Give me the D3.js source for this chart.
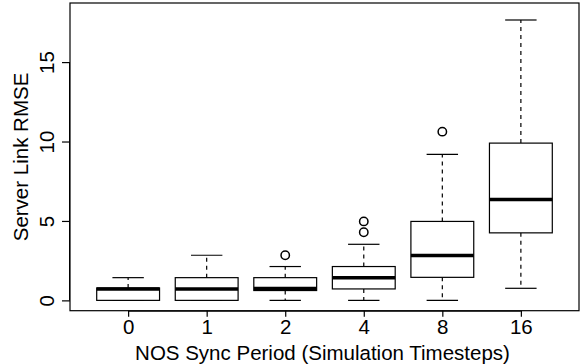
<!DOCTYPE html>
<html>
<head>
<meta charset="utf-8">
<script src="https://cdn.jsdelivr.net/npm/d3@7"></script>
<style>
  body { margin: 0; background: #fff; }
  text { font-family: "Liberation Sans", Arial, sans-serif; fill: #000; }
</style>
</head>
<body>
<div id="chart"></div>
<script>
// box stats
var categories = ["0", "1", "2", "4", "8", "16"];
var lowWhisker = [0, 0, 0, 0, 0, 0.76];
var q1 = [0, 0, 0.62, 0.72, 1.45, 4.25];
var median = [0.72, 0.72, 0.75, 1.43, 2.82, 6.35];
var q3 = [0.78, 1.43, 1.43, 2.13, 4.97, 9.9];
var highWhisker = [1.43, 2.84, 2.13, 3.53, 9.19, 17.65];
var outliers = [[], [], [2.84], [4.29, 4.97], [10.62], []];
var yTicks = [0, 5, 10, 15];

var width = 584, height = 364;
var mLeft = 70, mRight = 579, mTop = 3, mBottom = 310.7;
var fontSize = "20.5px";

var svg = d3.select("#chart").append("svg")
    .attr("width", width)
    .attr("height", height);

// R style: x positions 1..n, limits padded by 4%
var x = d3.scaleLinear()
    .domain([0.26, 6.74])
    .range([mLeft, mRight]);

var y = d3.scaleLinear()
    .domain([-0.65, 18.72])
    .range([mBottom, mTop]);

var step = x(2) - x(1);
var boxW = step * 0.8;
var capW = boxW * 0.5;

var data = categories.map(function(c, i) {
  return {
    name: c, i: i + 1,
    lo: lowWhisker[i], q1: q1[i], med: median[i], q3: q3[i], hi: highWhisker[i],
    out: outliers[i]
  };
});

var box = svg.selectAll(".box")
    .data(data)
  .enter().append("g")
    .attr("class", "box");

// whiskers (dashed)
box.append("line")
    .attr("x1", function(d) { return x(d.i); })
    .attr("x2", function(d) { return x(d.i); })
    .attr("y1", function(d) { return y(d.q3); })
    .attr("y2", function(d) { return y(d.hi); })
    .attr("stroke", "#000").attr("stroke-width", 1.2)
    .attr("stroke-dasharray", "4,4");

box.append("line")
    .attr("x1", function(d) { return x(d.i); })
    .attr("x2", function(d) { return x(d.i); })
    .attr("y1", function(d) { return y(d.q1); })
    .attr("y2", function(d) { return y(d.lo); })
    .attr("stroke", "#000").attr("stroke-width", 1.2)
    .attr("stroke-dasharray", "4,4");

// caps
box.selectAll(".cap")
    .data(function(d) { return [{i: d.i, v: d.hi}, {i: d.i, v: d.lo}]; })
  .enter().append("line")
    .attr("class", "cap")
    .attr("x1", function(d) { return x(d.i) - capW / 2; })
    .attr("x2", function(d) { return x(d.i) + capW / 2; })
    .attr("y1", function(d) { return y(d.v); })
    .attr("y2", function(d) { return y(d.v); })
    .attr("stroke", "#000").attr("stroke-width", 1.2);

// box
box.append("rect")
    .attr("x", function(d) { return x(d.i) - boxW / 2; })
    .attr("y", function(d) { return y(d.q3); })
    .attr("width", boxW)
    .attr("height", function(d) { return y(d.q1) - y(d.q3); })
    .attr("fill", "#fff")
    .attr("stroke", "#000").attr("stroke-width", 1.2);

// median
box.append("line")
    .attr("x1", function(d) { return x(d.i) - boxW / 2; })
    .attr("x2", function(d) { return x(d.i) + boxW / 2; })
    .attr("y1", function(d) { return y(d.med); })
    .attr("y2", function(d) { return y(d.med); })
    .attr("stroke", "#000").attr("stroke-width", 3.5);

// outliers
box.selectAll(".out")
    .data(function(d) { return d.out.map(function(v) { return {i: d.i, v: v}; }); })
  .enter().append("circle")
    .attr("class", "out")
    .attr("cx", function(d) { return x(d.i); })
    .attr("cy", function(d) { return y(d.v); })
    .attr("r", 4.2)
    .attr("fill", "none")
    .attr("stroke", "#000").attr("stroke-width", 1.5);

// frame
svg.append("rect")
    .attr("x", mLeft).attr("y", mTop)
    .attr("width", mRight - mLeft).attr("height", mBottom - mTop)
    .attr("fill", "none")
    .attr("stroke", "#000").attr("stroke-width", 1.2);

// x axis
var xAxis = d3.axisBottom(x)
    .tickValues(d3.range(1, categories.length + 1))
    .tickFormat(function(d) { return categories[d - 1]; })
    .tickSize(6)
    .tickPadding(3);

var gx = svg.append("g")
    .attr("transform", "translate(0," + mBottom + ")")
    .call(xAxis);
gx.select(".domain")
    .attr("d", "M" + x(1) + ",0.5H" + x(categories.length));
gx.selectAll("line").attr("stroke-width", 1.2);
gx.selectAll("text")
    .attr("font-size", fontSize)
    .attr("font-family", "Liberation Sans, Arial, sans-serif");

// y axis, labels rotated like R
var yAxis = d3.axisLeft(y)
    .tickValues(yTicks)
    .tickSize(8)
    .tickFormat(d3.format("d"));

var gy = svg.append("g")
    .attr("transform", "translate(" + mLeft + ",0)")
    .call(yAxis);
gy.select(".domain")
    .attr("d", "M-0.5," + y(0) + "V" + y(15));
gy.selectAll("line").attr("stroke-width", 1.2);
gy.selectAll("text")
    .attr("font-size", fontSize)
    .attr("font-family", "Liberation Sans, Arial, sans-serif")
    .attr("x", null)
    .attr("text-anchor", "middle")
    .attr("transform", "translate(-23,0) rotate(-90)")
    .attr("y", 0)
    .attr("dy", "0.35em");

// axis titles
svg.append("text")
    .attr("x", (mLeft + mRight) / 2 - 2)
    .attr("y", 360)
    .attr("text-anchor", "middle")
    .attr("font-size", fontSize)
    .text("NOS Sync Period (Simulation Timesteps)");

svg.append("text")
    .attr("transform", "translate(21," + 157 + ") rotate(-90)")
    .attr("text-anchor", "middle")
    .attr("dy", "0.35em")
    .attr("font-size", fontSize)
    .text("Server Link RMSE");
</script>
</body>
</html>
